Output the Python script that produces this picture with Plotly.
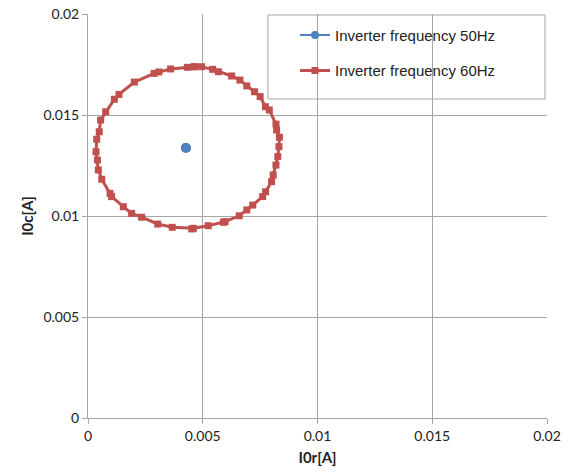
import plotly.graph_objects as go

# Inverter frequency 50Hz (cluster of points)
x50 = [0.00424, 0.00428, 0.00431, 0.00429, 0.00425, 0.00422, 0.00426, 0.00430, 0.00427]
y50 = [0.01340, 0.01342, 0.01338, 0.01334, 0.01333, 0.01337, 0.01341, 0.01336, 0.01338]

# Inverter frequency 60Hz
x60 = [0.00463, 0.00433, 0.00360, 0.00309, 0.00288, 0.00202, 0.00135, 0.00115, 0.00077,
       0.00055, 0.00049, 0.00038, 0.00035, 0.00041, 0.00045, 0.00060, 0.00096, 0.00103,
       0.00154, 0.00190, 0.00234, 0.00304, 0.00367, 0.00452, 0.00459, 0.00524, 0.00590,
       0.00597, 0.00659, 0.00692, 0.00718, 0.00761, 0.00774, 0.00800, 0.00807, 0.00819,
       0.00827, 0.00832, 0.00834, 0.00822, 0.00819, 0.00790, 0.00773, 0.00750, 0.00726,
       0.00692, 0.00662, 0.00626, 0.00568, 0.00543, 0.00495, 0.00463]
y60 = [0.01739, 0.01736, 0.01728, 0.01713, 0.01706, 0.01663, 0.01602, 0.01578, 0.01516,
       0.01475, 0.01417, 0.01380, 0.01318, 0.01277, 0.01228, 0.01182, 0.01112, 0.01096,
       0.01046, 0.01013, 0.00994, 0.00960, 0.00944, 0.00936, 0.00939, 0.00952, 0.00969,
       0.00972, 0.01001, 0.01030, 0.01054, 0.01096, 0.01120, 0.01170, 0.01203, 0.01252,
       0.01294, 0.01343, 0.01390, 0.01426, 0.01455, 0.01525, 0.01541, 0.01591, 0.01615,
       0.01644, 0.01673, 0.01693, 0.01714, 0.01726, 0.01739, 0.01739]

ticks = [0, 0.005, 0.01, 0.015, 0.02]
tick_text = ["0", "0.005", "0.01", "0.015", "0.02"]

BLUE = "#4F81BD"
RED = "#C0504D"

fig = go.Figure()
fig.add_trace(go.Scatter(
    x=x50, y=y50, mode="lines+markers", name="Inverter frequency 50Hz",
    line=dict(color=BLUE, width=2), marker=dict(symbol="circle", size=8, color=BLUE),
    legendgroup="a"))
fig.add_trace(go.Scatter(
    x=x60, y=y60, mode="lines+markers", name="Inverter frequency 60Hz",
    line=dict(color=RED, width=3), marker=dict(symbol="square", size=7, color=RED),
    legendgroup="b"))

axis_common = dict(
    range=[0, 0.02], tickvals=ticks, ticktext=tick_text,
    showgrid=True, gridcolor="#A6A6A6", gridwidth=1,
    showline=True, linecolor="#A6A6A6", linewidth=1,
    ticks="outside", ticklen=5, tickcolor="#A6A6A6",
    zeroline=False, automargin=False,
    tickfont=dict(family="Lato, Liberation Sans", size=14, color="#222"),
    title_font=dict(family="Lato, Liberation Sans", size=15, color="#222"),
)

fig.update_layout(
    width=569, height=476,
    margin=dict(l=88, r=22, t=14, b=58),
    paper_bgcolor="white", plot_bgcolor="white",
    xaxis=dict(axis_common, title=dict(text="<b>I0r[A]</b>", standoff=9)),
    yaxis=dict(axis_common, title=dict(text="<b>I0c[A]</b>", standoff=6)),
    showlegend=True,
    legend=dict(x=0.451, y=0.988, xanchor="left", yanchor="top",
                bgcolor="rgba(0,0,0,0)", borderwidth=0,
                traceorder="grouped", tracegroupgap=13,
                font=dict(family="Liberation Sans, Arial", size=15, color="#222")),
    shapes=[dict(type="rect", xref="paper", yref="paper",
                 x0=0.392, x1=0.9956, y0=0.7896, y1=0.9975,
                 line=dict(color="#A6A6A6", width=1), fillcolor="white", layer="below")],
)

fig.write_html("out.html", config={"displayModeBar": False},
               post_script="document.body.style.margin='0';")
